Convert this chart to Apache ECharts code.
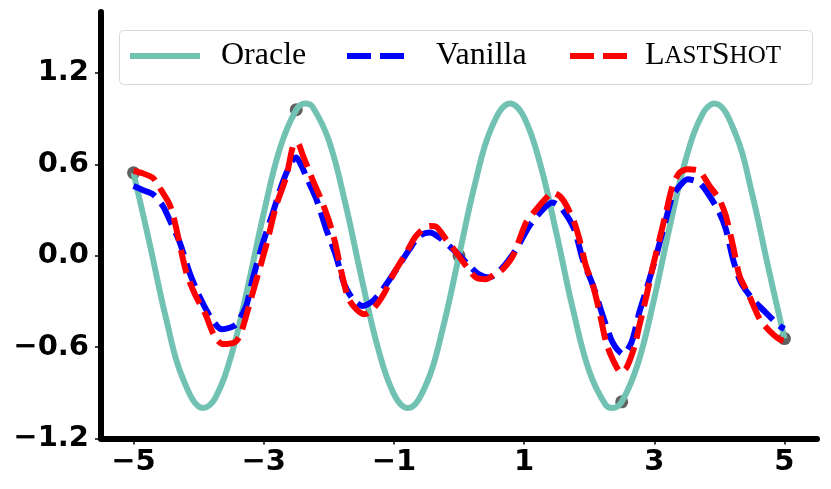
<!DOCTYPE html>
<html>
<head>
<meta charset="utf-8">
<script src="https://cdn.jsdelivr.net/npm/echarts@6/dist/echarts.min.js"></script>
<style>html,body{margin:0;padding:0;background:#fff}#c{width:831px;height:489px}</style>
</head>
<body>
<div id="c"></div>
<script>
// ---- data ----
var xTicks = [-5, -3, -1, 1, 3, 5];
var yTicks = [-1.2, -0.6, 0, 0.6, 1.2];

var oracleX = [-5, -4.75, -4.5, -4.25, -3.927, -3.75, -3.5, -3.25, -3, -2.75, -2.5, -2.356, -2.25, -2, -1.75, -1.5, -1.25, -1, -0.785, -0.5, -0.25, 0, 0.25, 0.5, 0.785, 1, 1.25, 1.5, 1.75, 2, 2.25, 2.356, 2.5, 2.75, 3, 3.25, 3.5, 3.75, 3.927, 4.25, 4.5, 4.75, 5];
var oracleY = [0.544, 0.075, -0.412, -0.798, -1, -0.938, -0.657, -0.215, 0.279, 0.706, 0.959, 1, 0.978, 0.757, 0.351, -0.141, -0.598, -0.909, -1, -0.841, -0.479, 0, 0.479, 0.841, 1, 0.909, 0.598, 0.141, -0.351, -0.757, -0.978, -1, -0.959, -0.706, -0.279, 0.215, 0.657, 0.938, 1, 0.798, 0.412, -0.075, -0.544];

var vanillaX = [-5, -4.85, -4.7, -4.55, -4.45, -4.29, -4.14, -3.99, -3.83, -3.7, -3.63, -3.5, -3.42, -3.27, -3.17, -3.01, -2.86, -2.71, -2.58, -2.5, -2.42, -2.35, -2.19, -2.04, -1.89, -1.76, -1.63, -1.48, -1.32, -1.17, -0.96, -0.76, -0.61, -0.45, -0.3, -0.15, 0.01, 0.16, 0.3, 0.47, 0.67, 0.88, 1.08, 1.29, 1.44, 1.58, 1.77, 1.9, 2.06, 2.21, 2.36, 2.52, 2.65, 2.77, 2.88, 3.03, 3.18, 3.28, 3.39, 3.51, 3.69, 3.85, 4, 4.1, 4.21, 4.33, 4.51, 4.71, 4.92, 5];
var vanillaY = [0.458, 0.43, 0.403, 0.327, 0.239, 0.087, -0.11, -0.264, -0.395, -0.47, -0.482, -0.47, -0.449, -0.33, -0.154, 0.087, 0.283, 0.48, 0.611, 0.644, 0.59, 0.523, 0.37, 0.174, 0, -0.19, -0.285, -0.33, -0.296, -0.22, -0.089, 0.043, 0.13, 0.152, 0.119, 0.064, 0, -0.067, -0.12, -0.143, -0.077, 0.043, 0.195, 0.305, 0.349, 0.31, 0.174, -0.023, -0.198, -0.395, -0.569, -0.646, -0.569, -0.372, -0.22, 0, 0.239, 0.392, 0.458, 0.502, 0.48, 0.392, 0.283, 0.174, -0.023, -0.176, -0.285, -0.372, -0.46, -0.48];

var lastShotX = [-5, -4.85, -4.7, -4.6, -4.45, -4.37, -4.19, -4.05, -3.9, -3.76, -3.63, -3.45, -3.37, -3.3, -3.11, -2.96, -2.81, -2.65, -2.55, -2.48, -2.4, -2.25, -2.1, -1.99, -1.9, -1.8, -1.7, -1.58, -1.45, -1.3, -1.14, -1.02, -0.81, -0.66, -0.45, -0.35, -0.2, -0.04, 0.11, 0.26, 0.42, 0.55, 0.67, 0.83, 1.03, 1.19, 1.3, 1.44, 1.55, 1.65, 1.77, 1.85, 1.95, 2.06, 2.16, 2.26, 2.36, 2.49, 2.58, 2.7, 2.77, 2.88, 2.98, 3.08, 3.18, 3.28, 3.39, 3.51, 3.69, 3.85, 4, 4.1, 4.21, 4.31, 4.46, 4.62, 4.77, 4.92, 5];
var lastShotY = [0.556, 0.54, 0.51, 0.447, 0.34, 0.228, -0.11, -0.26, -0.38, -0.526, -0.58, -0.57, -0.53, -0.44, -0.154, 0.07, 0.327, 0.523, 0.72, 0.74, 0.66, 0.5, 0.35, 0.218, 0.08, -0.12, -0.28, -0.35, -0.384, -0.34, -0.24, -0.13, 0.02, 0.13, 0.195, 0.19, 0.108, 0.02, -0.067, -0.143, -0.154, -0.12, -0.089, 0, 0.218, 0.305, 0.36, 0.414, 0.39, 0.33, 0.22, 0.108, -0.067, -0.198, -0.372, -0.569, -0.679, -0.766, -0.73, -0.59, -0.46, -0.264, -0.067, 0.108, 0.283, 0.458, 0.546, 0.567, 0.556, 0.458, 0.37, 0.261, 0.064, -0.132, -0.264, -0.416, -0.493, -0.548, -0.558];

var contextX = [-5, -2.5, 0, 2.5, 5];
var contextY = [0.544, 0.959, 0, -0.959, -0.544];

function pairs(xs, ys) { return xs.map(function (x, i) { return [x, ys[i]]; }); }
function minus(s) { return String(s).replace('-', '\u2212'); }

var TEAL = '#72c2b4';
var chart = echarts.init(document.getElementById('c'), null, { renderer: 'canvas' });
var legendText = { fontFamily: 'Liberation Serif', fontSize: 32, color: '#000' };
function legendBase(name, left, width, pad) {
  return {
    data: [name], left: left, top: 40, padding: 0, itemWidth: width, itemHeight: 14,
    selectedMode: false, z: 10,
    lineStyle: { width: 6 }, itemStyle: { opacity: 0, borderWidth: 0 },
    textStyle: Object.assign({ padding: [0, 0, 0, pad] }, legendText)
  };
}
var lg3 = legendBase('LastShot', 567, 58, 12);
lg3.formatter = function () { return '{b|L}{s|AST}{b|S}{s|HOT}'; };
lg3.textStyle.rich = {
  b: { fontFamily: 'Liberation Serif', fontSize: 32, color: '#000' },
  s: { fontFamily: 'Liberation Serif', fontSize: 25, color: '#000' }
};

chart.setOption({
  animation: false,
  backgroundColor: '#fff',
  grid: { left: 101, right: 14, top: 12, bottom: 50.5, outerBoundsMode: 'none' },
  graphic: [{
    type: 'rect', z: 0, silent: true,
    shape: { x: 119.5, y: 30.5, width: 693, height: 54, r: 4 },
    style: { fill: 'rgba(255,255,255,0.9)', stroke: '#d9d9d9', lineWidth: 1 }
  }],
  legend: [legendBase('Oracle', 127, 70, 16), legendBase('Vanilla', 344, 58, 26), lg3],
  xAxis: {
    type: 'value', min: -5.5, max: 5.5,
    splitLine: { show: false },
    axisLine: { show: true, onZero: false, lineStyle: { color: '#000', width: 6 } },
    axisTick: { show: true, customValues: xTicks, length: 6, lineStyle: { color: '#000', width: 1.5 } },
    axisLabel: { customValues: xTicks, formatter: function (v) { return minus(v); },
      fontFamily: 'DejaVu Sans', fontWeight: 'bold', fontSize: 29, color: '#000', margin: 9 }
  },
  yAxis: {
    type: 'value', min: -1.2, max: 1.6,
    splitLine: { show: false },
    axisLine: { show: true, onZero: false, lineStyle: { color: '#000', width: 6 } },
    axisTick: { show: true, customValues: yTicks, length: 6, lineStyle: { color: '#000', width: 1.5 } },
    axisLabel: { customValues: yTicks, formatter: function (v) { return minus(v.toFixed(1)); },
      fontFamily: 'DejaVu Sans', fontWeight: 'bold', fontSize: 29, color: '#000', margin: 12 }
  },
  series: [
    { name: 'Context', type: 'scatter', z: 1, data: pairs(contextX, contextY), symbolSize: 13,
      itemStyle: { color: '#505050', opacity: 0.9 }, silent: true },
    { name: 'Oracle', type: 'line', z: 2, data: pairs(oracleX, oracleY), smooth: 0.4, symbol: 'none',
      lineStyle: { color: TEAL, width: 6 }, itemStyle: { color: TEAL } },
    { name: 'Vanilla', type: 'line', z: 3, data: pairs(vanillaX, vanillaY), smooth: 0.25, symbol: 'none',
      lineStyle: { color: '#0000ff', width: 6, type: [24, 9] }, itemStyle: { color: '#0000ff' } },
    { name: 'LastShot', type: 'line', z: 4, data: pairs(lastShotX, lastShotY), smooth: 0.25, symbol: 'none',
      lineStyle: { color: '#ff0000', width: 6, type: [24, 9] }, itemStyle: { color: '#ff0000' } }
  ]
});
</script>
</body>
</html>
